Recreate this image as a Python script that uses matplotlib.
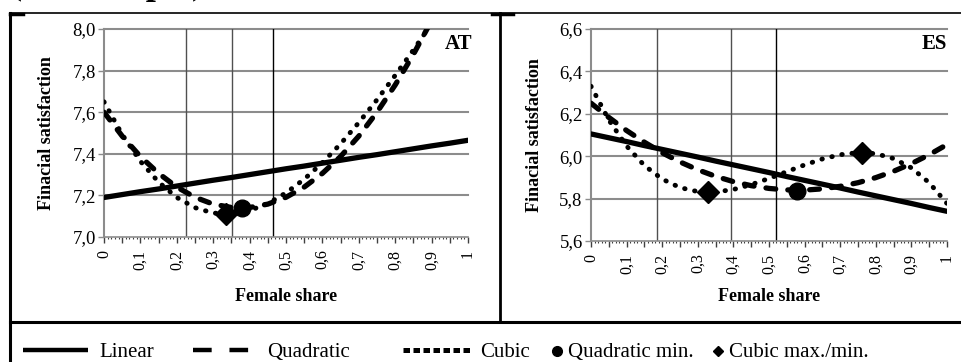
import numpy as np
import matplotlib
matplotlib.use('Agg')
import matplotlib.pyplot as plt
from matplotlib.lines import Line2D
from matplotlib.ticker import MultipleLocator, FuncFormatter

plt.rcParams['font.family'] = ['Liberation Serif', 'DejaVu Serif']

# Werte
share = [0.00, 0.05, 0.10, 0.15, 0.20, 0.25, 0.30, 0.35, 0.40, 0.45, 0.50,
         0.55, 0.60, 0.65, 0.70, 0.75, 0.80, 0.85, 0.90, 0.95, 1.00]

at_linear = [7.190, 7.204, 7.218, 7.231, 7.245, 7.259, 7.273, 7.286, 7.300, 7.314, 7.328,
             7.341, 7.355, 7.369, 7.383, 7.396, 7.410, 7.424, 7.438, 7.451, 7.465]
at_quad = [7.600, 7.485, 7.387, 7.306, 7.240, 7.191, 7.158, 7.142, 7.142, 7.158, 7.191,
           7.240, 7.306, 7.387, 7.485, 7.600, 7.731, 7.878, 8.041, 8.22, 8.41]
at_cubic = [7.650, 7.492, 7.364, 7.264, 7.190, 7.141, 7.115, 7.111, 7.127, 7.161, 7.212,
            7.278, 7.357, 7.448, 7.550, 7.660, 7.777, 7.899, 8.026, 8.154, 8.283]
at_quad_min = [0.38, 7.14]
at_cubic_ext = [[0.335], [7.11]]
at_vlines = [0.224, 0.352, 0.463]

es_linear = [6.105, 6.087, 6.069, 6.050, 6.032, 6.014, 5.996, 5.977, 5.959, 5.941, 5.923,
             5.904, 5.886, 5.868, 5.850, 5.831, 5.813, 5.795, 5.777, 5.758, 5.740]
es_quad = [6.250, 6.183, 6.121, 6.066, 6.016, 5.973, 5.936, 5.905, 5.880, 5.861, 5.848,
           5.841, 5.840, 5.846, 5.858, 5.875, 5.899, 5.929, 5.965, 6.007, 6.055]
es_cubic = [6.330, 6.171, 6.048, 5.956, 5.892, 5.852, 5.833, 5.831, 5.843, 5.866, 5.895,
            5.927, 5.959, 5.987, 6.007, 6.017, 6.012, 5.989, 5.945, 5.875, 5.777]
es_quad_min = [0.58, 5.835]
es_cubic_ext = [[0.33, 0.76], [5.83, 6.015]]
es_vlines = [0.185, 0.392, 0.52]

at_yticks = [7.0, 7.2, 7.4, 7.6, 7.8, 8.0]
es_yticks = [5.6, 5.8, 6.0, 6.2, 6.4, 6.6]

W, H = 961, 362
fig = plt.figure(figsize=(W / 100, H / 100), dpi=100)


def box(x0, y0, x1, y1):
    # Pixelbox (y von oben) -> Figure-Koordinaten
    return [x0 / W, 1 - y1 / H, (x1 - x0) / W, (y1 - y0) / H]


def komma(v):
    return f'{v:.1f}'.replace('.', ',')


def xfmt(v, pos):
    k = int(round(v * 20))
    if k % 2:
        return ''
    if k == 0:
        return '0'
    if k == 20:
        return '1'
    return komma(v)


def panel(rect, lin, quad, cub, qmin, cext, vlines, yticks, name, name_x, xlab_y):
    ax = fig.add_axes(rect)
    ax.set_xlim(0, 1)
    ax.set_ylim(yticks[0], yticks[-1])
    for y in yticks[1:]:
        ax.axhline(y, color='#8c8c8c', lw=1.5, zorder=1, clip_on=False)
    for i, v in enumerate(vlines):
        ax.axvline(v, color='#505050' if i < 2 else 'black', lw=1.0, zorder=1)

    ax.plot(share, lin, color='black', lw=3.8, solid_capstyle='round', zorder=3)
    ax.plot(share, quad, color='black', lw=3.8, dashes=(1.85, 2.3),
            dash_capstyle='round', zorder=3)
    ax.plot(share, cub, color='black', lw=3.5, dashes=(0.1, 2.0),
            dash_capstyle='round', zorder=3)
    ax.plot([qmin[0]], [qmin[1]], 'o', color='black', ms=12, zorder=4)
    ax.plot(cext[0], cext[1], 'D', color='black', ms=11, zorder=4)

    ax.set_yticks(yticks)
    ax.set_yticklabels([komma(y) for y in yticks])
    ax.xaxis.set_major_locator(MultipleLocator(0.05))
    ax.xaxis.set_minor_locator(MultipleLocator(0.01))
    ax.xaxis.set_major_formatter(FuncFormatter(xfmt))
    ax.tick_params(axis='x', which='major', length=4, width=1, color='#404040',
                   labelrotation=90, labelsize=11.5, pad=5)
    ax.tick_params(axis='x', which='minor', length=1.5, width=0.8, color='#404040')
    ax.tick_params(axis='y', length=4, width=1, color='#8c8c8c', labelsize=13.5, pad=2)

    for s in ['top', 'right']:
        ax.spines[s].set_visible(False)
    ax.spines['left'].set_color('#8c8c8c')
    ax.spines['left'].set_linewidth(1.5)
    ax.spines['bottom'].set_color('#8c8c8c')
    ax.spines['bottom'].set_linewidth(1.2)

    ax.set_xlabel('Female share', fontsize=13, fontweight='bold')
    ax.xaxis.set_label_coords(0.5, xlab_y)
    ax.set_ylabel('Finacial satisfaction', fontsize=13, fontweight='bold')
    ax.yaxis.set_label_coords(-0.135, 0.5)
    ax.text(name_x, 0.975, name, transform=ax.transAxes, ha='right', va='top',
            fontsize=15, fontweight='bold')
    return ax


panel(box(104, 29, 468, 237), at_linear, at_quad, at_cubic, at_quad_min,
      at_cubic_ext, at_vlines, at_yticks, 'AT', 1.013, -0.245)
panel(box(591, 29, 947, 241), es_linear, es_quad, es_cubic, es_quad_min,
      es_cubic_ext, es_vlines, es_yticks, 'ES', 1.0, -0.222)

# Rahmen (Tabellenlinien)
def hline(x0, x1, y, lw):
    fig.add_artist(Line2D([x0 / W, x1 / W], [1 - y / H] * 2, color='black', lw=lw))


def vline(x, y0, y1, lw):
    fig.add_artist(Line2D([x / W] * 2, [1 - y0 / H, 1 - y1 / H], color='black', lw=lw))


hline(10, W, 13, 1.2)
hline(10, 23, 13.5, 2.5)
hline(492, 513, 13.5, 2.5)
hline(10, W, 322, 2.2)
vline(10, 13, H, 2.2)
vline(500, 13, 322, 2.0)

# abgeschnittene Überschrift oben (im Original nur Unterlängen sichtbar)
fig.text(10 / W, 1 + 6 / H, '(full sample)', fontsize=26, fontweight='bold',
         ha='left', va='baseline')

# Legende
lg = fig.add_axes([0, 0, 1, 40 / H])
lg.set_xlim(0, W)
lg.set_ylim(H, H - 40)
lg.axis('off')
ly, ty = 349.5, 357
lg.plot([23, 88], [ly, ly], color='black', lw=3.2, solid_capstyle='butt')
lg.text(99, ty, 'Linear', fontsize=15, va='baseline')
lg.plot([193, 250], [ly, ly], color='black', lw=3.2, dashes=(4.2, 4.0))
lg.text(267, ty, 'Quadratic', fontsize=15, va='baseline')
lg.plot([403, 470], [ly, ly], color='black', lw=3.6, dashes=(1.3, 0.7))
lg.text(480, ty, 'Cubic', fontsize=15, va='baseline')
lg.plot([557], [ly + 1], 'o', color='black', ms=7)
lg.text(568, ty, 'Quadratic min.', fontsize=15, va='baseline')
lg.plot([718], [ly + 1], 'D', color='black', ms=5)
lg.text(729, ty, 'Cubic max./min.', fontsize=15, va='baseline')

fig.savefig('out.png', dpi=100)
